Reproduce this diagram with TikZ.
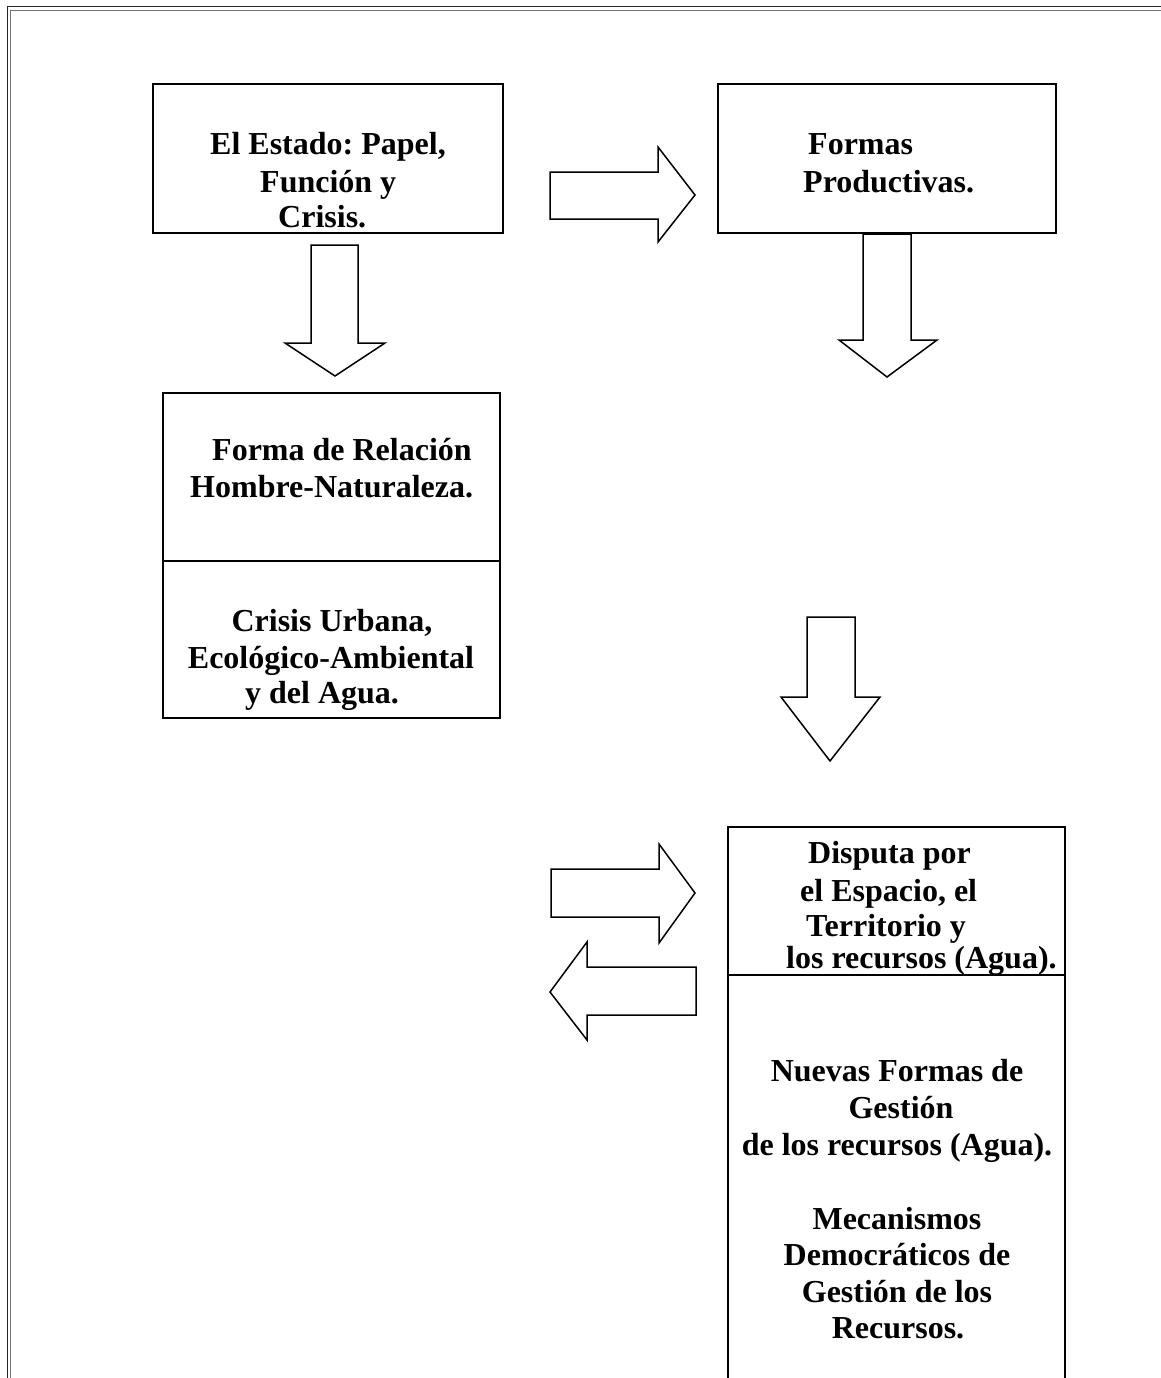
\documentclass[tikz,border=0pt]{standalone}
\usepackage{fontspec}
\setmainfont{Liberation Serif}
\frenchspacing
\begin{document}
\begin{tikzpicture}[x=1pt,y=-1pt,
  box/.style={draw=black,line width=2pt,rectangle,inner sep=0pt},
  blockarrow/.style={draw=black,fill=white,line width=1.5pt,line join=miter},
  txt/.style={inner sep=0pt,font=\fontsize{32}{37}\selectfont\bfseries},
  lft/.style={txt,anchor=base west},
  ctr/.style={txt,anchor=base}]
\useasboundingbox (0,0) rectangle (1161,1378);

% page frame (double rule on top and left)
\draw[black!85,line width=1pt] (7,1378) -- (7,7) -- (1161,7);
\draw[black!55,line width=1.6pt] (10.5,1378) -- (10.5,10.5) -- (1161,10.5);

% boxes
\node[box,minimum width=350pt,minimum height=149pt] (estado) at (328,158.5) {};
\node[box,minimum width=338pt,minimum height=149pt] (formas) at (887,158.5) {};
\node[box,minimum width=337pt,minimum height=168pt] (relacion) at (331.5,477) {};
\node[box,minimum width=337pt,minimum height=157pt] (crisis) at (331.5,639.5) {};
\draw[line width=2pt] (728,1378) -- (728,827) -- (1065,827) -- (1065,1378);
\draw[line width=2pt] (728,975) -- (1065,975);
\coordinate (disputa) at (896.5,901);

% block arrows
\draw[blockarrow] (550,172) -- (658,172) -- (658,147) -- (695,195) -- (658,242) -- (658,219) -- (550,219) -- cycle;
\draw[blockarrow] (311,245) -- (358,245) -- (358,343) -- (385,343) -- (335,376) -- (285,343) -- (311,343) -- cycle;
\draw[blockarrow] (863,234) -- (911,234) -- (911,340) -- (937,340) -- (887,377) -- (839,340) -- (863,340) -- cycle;
\draw[blockarrow] (807,617) -- (855,617) -- (855,697) -- (880,697) -- (830,761) -- (781,697) -- (807,697) -- cycle;
\draw[blockarrow] (551,869) -- (659,869) -- (659,844) -- (695,893) -- (659,943) -- (659,917) -- (551,917) -- cycle;
\draw[blockarrow] (696,967) -- (587,967) -- (587,942) -- (550,992) -- (587,1040) -- (587,1015) -- (696,1015) -- cycle;

% texts
\node[lft] (e1) at (210,154) {El Estado: Papel,};
\node[lft] (e2) at (260,192) {Función y};
\node[lft] (e3) at (278,227) {Crisis.};

\node[lft] (f1) at (808,154) {Formas};
\node[lft] (f2) at (803,192) {Productivas.};

\node[lft] (r1) at (212,460) {Forma de Relación};
\node[lft] (r2) at (190,497) {Hombre-Naturaleza.};

\node[ctr] (c1) at (332,631) {Crisis Urbana,};
\node[ctr] (c2) at (331,668) {Ecológico-Ambiental};
\node[ctr] (c3) at (322,703) {y del Agua.};

\node[lft] (d1) at (808,863) {Disputa por};
\node[lft] (d2) at (800,901) {el Espacio, el};
\node[lft] (d3) at (806,936) {Territorio y};
\node[lft] (d4) at (786,968) {los recursos (Agua).};

\node[ctr] (g1) at (897,1081) {Nuevas Formas de};
\node[ctr] (g2) at (901,1118) {Gestión};
\node[ctr] (g3) at (897,1155) {de los recursos (Agua).};
\node[ctr] (m1) at (897,1229) {Mecanismos};
\node[ctr] (m2) at (897,1265) {Democráticos de};
\node[ctr] (m3) at (897,1302) {Gestión de los};
\node[ctr] (m4) at (898,1338) {Recursos.};
\end{tikzpicture}
\end{document}
